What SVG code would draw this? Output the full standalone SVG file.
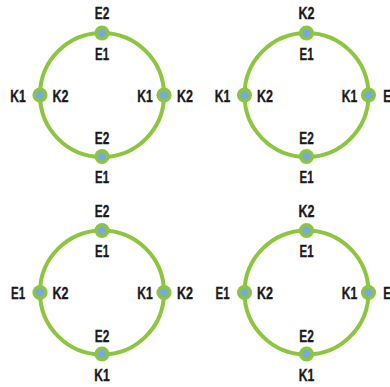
<svg xmlns="http://www.w3.org/2000/svg" width="390" height="387" viewBox="0 0 390 387">
<style>
.ring{fill:none;stroke:#8cc63e;stroke-width:4}
.outer{fill:#8cc63e}
.inner{fill:#77aadb}
text{font-family:"Liberation Sans",Arial,sans-serif;font-weight:bold;font-size:16px;fill:#1a1a1a;text-anchor:middle;stroke:#1a1a1a;stroke-width:0.35px}
</style>
<defs>
<g id="dot"><circle class="outer" r="7.6"/><circle class="inner" r="4.1"/></g>
</defs>
<g id="connectors">
<circle class="ring" cx="102" cy="95" r="62"/>
<circle class="ring" cx="306.5" cy="95" r="62"/>
<circle class="ring" cx="102" cy="292.5" r="62"/>
<circle class="ring" cx="306.5" cy="292.5" r="62"/>
</g>
<!-- Panel 1 -->
<g transform="translate(102,95)">
<g id="p1-top"><use href="#dot" x="0" y="-62"/><text x="0" y="-76" textLength="14.5" lengthAdjust="spacingAndGlyphs">E2</text><text x="0" y="-35.5" textLength="14" lengthAdjust="spacingAndGlyphs">E1</text></g>
<g id="p1-left"><use href="#dot" x="-62" y="0"/><text x="-84" y="6.5" textLength="15.5" lengthAdjust="spacingAndGlyphs">K1</text><text x="-41.5" y="6.5" textLength="16" lengthAdjust="spacingAndGlyphs">K2</text></g>
<g id="p1-right"><use href="#dot" x="62" y="0"/><text x="43" y="6.5" textLength="15.5" lengthAdjust="spacingAndGlyphs">K1</text><text x="83" y="6.5" textLength="16" lengthAdjust="spacingAndGlyphs">K2</text></g>
<g id="p1-bottom"><use href="#dot" x="0" y="61.5"/><text x="0" y="49" textLength="14.5" lengthAdjust="spacingAndGlyphs">E2</text><text x="0" y="88" textLength="14" lengthAdjust="spacingAndGlyphs">E1</text></g>
</g>
<!-- Panel 2 -->
<g transform="translate(306.5,95)">
<g id="p2-top"><use href="#dot" x="0" y="-62"/><text x="0" y="-76" textLength="16" lengthAdjust="spacingAndGlyphs">K2</text><text x="0" y="-35.5" textLength="14" lengthAdjust="spacingAndGlyphs">E1</text></g>
<g id="p2-left"><use href="#dot" x="-62" y="0"/><text x="-84" y="6.5" textLength="15.5" lengthAdjust="spacingAndGlyphs">K1</text><text x="-41.5" y="6.5" textLength="16" lengthAdjust="spacingAndGlyphs">K2</text></g>
<g id="p2-right"><use href="#dot" x="62" y="0"/><text x="43" y="6.5" textLength="15.5" lengthAdjust="spacingAndGlyphs">K1</text><text x="84" y="6.5" textLength="14.5" lengthAdjust="spacingAndGlyphs">E2</text></g>
<g id="p2-bottom"><use href="#dot" x="0" y="61.5"/><text x="0" y="49" textLength="14.5" lengthAdjust="spacingAndGlyphs">E2</text><text x="0" y="88" textLength="14" lengthAdjust="spacingAndGlyphs">E1</text></g>
</g>
<!-- Panel 3 -->
<g transform="translate(102,292.5)">
<g id="p3-top"><use href="#dot" x="0" y="-62"/><text x="0" y="-76" textLength="14.5" lengthAdjust="spacingAndGlyphs">E2</text><text x="0" y="-35.5" textLength="14" lengthAdjust="spacingAndGlyphs">E1</text></g>
<g id="p3-left"><use href="#dot" x="-62" y="0"/><text x="-84" y="6.5" textLength="14" lengthAdjust="spacingAndGlyphs">E1</text><text x="-41.5" y="6.5" textLength="16" lengthAdjust="spacingAndGlyphs">K2</text></g>
<g id="p3-right"><use href="#dot" x="62" y="0"/><text x="43" y="6.5" textLength="15.5" lengthAdjust="spacingAndGlyphs">K1</text><text x="83" y="6.5" textLength="16" lengthAdjust="spacingAndGlyphs">K2</text></g>
<g id="p3-bottom"><use href="#dot" x="0" y="61.5"/><text x="0" y="49" textLength="14.5" lengthAdjust="spacingAndGlyphs">E2</text><text x="0" y="88" textLength="15.5" lengthAdjust="spacingAndGlyphs">K1</text></g>
</g>
<!-- Panel 4 -->
<g transform="translate(306.5,292.5)">
<g id="p4-top"><use href="#dot" x="0" y="-62"/><text x="0" y="-76" textLength="16" lengthAdjust="spacingAndGlyphs">K2</text><text x="0" y="-35.5" textLength="14" lengthAdjust="spacingAndGlyphs">E1</text></g>
<g id="p4-left"><use href="#dot" x="-62" y="0"/><text x="-84" y="6.5" textLength="14" lengthAdjust="spacingAndGlyphs">E1</text><text x="-41.5" y="6.5" textLength="16" lengthAdjust="spacingAndGlyphs">K2</text></g>
<g id="p4-right"><use href="#dot" x="62" y="0"/><text x="43" y="6.5" textLength="15.5" lengthAdjust="spacingAndGlyphs">K1</text><text x="84" y="6.5" textLength="14.5" lengthAdjust="spacingAndGlyphs">E2</text></g>
<g id="p4-bottom"><use href="#dot" x="0" y="61.5"/><text x="0" y="49" textLength="14.5" lengthAdjust="spacingAndGlyphs">E2</text><text x="0" y="88" textLength="15.5" lengthAdjust="spacingAndGlyphs">K1</text></g>
</g>
</svg>
